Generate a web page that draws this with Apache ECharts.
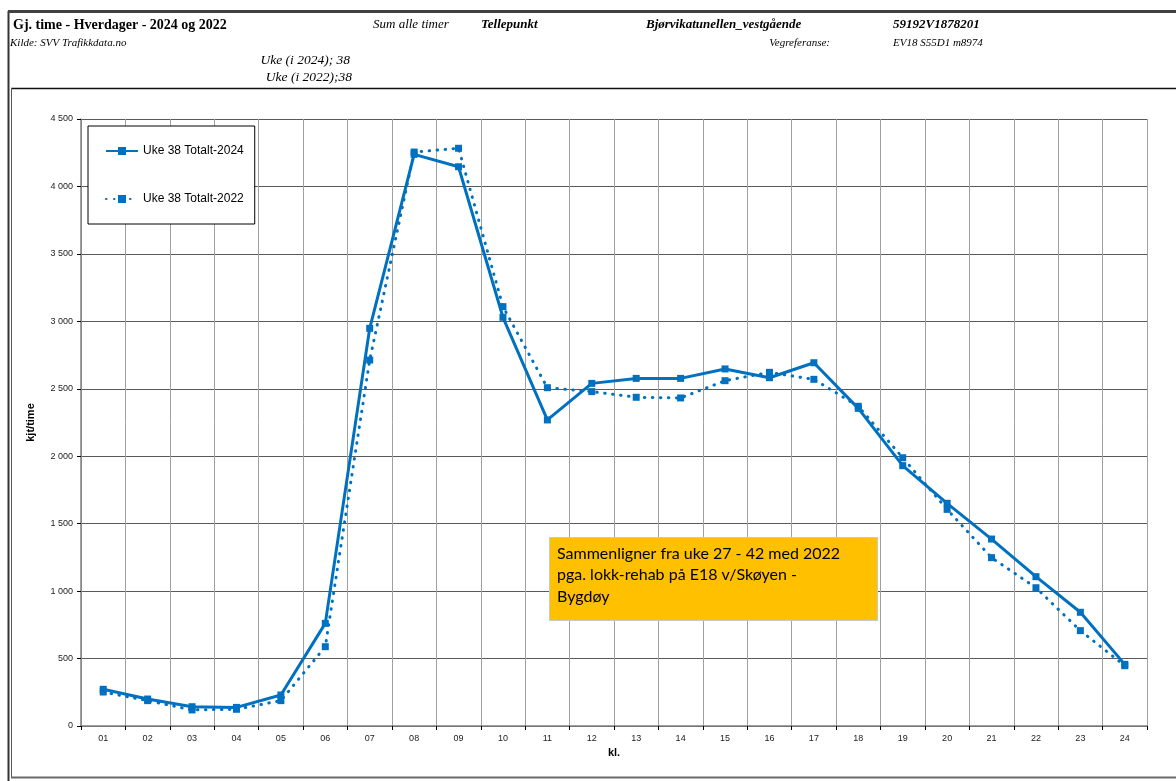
<!DOCTYPE html>
<html>
<head>
<meta charset="utf-8">
<title>Gj. time - Hverdager - 2024 og 2022</title>
<script src="https://cdn.jsdelivr.net/npm/echarts@6/dist/echarts.min.js"></script>
<style>
  html, body { margin: 0; padding: 0; background: #fff; }
  #chart { width: 1176px; height: 781px; }
</style>
</head>
<body>
<div id="chart"></div>
<script>
// Hour of day (kl.)
const hours = ['01','02','03','04','05','06','07','08','09','10','11','12',
               '13','14','15','16','17','18','19','20','21','22','23','24'];

// Average weekday traffic per hour, week 38
const total2024 = [272, 200, 143, 138, 230, 761, 2948, 4238, 4146, 3030, 2269, 2540,
                   2577, 2577, 2647, 2582, 2693, 2355, 1930, 1651, 1386, 1107, 843, 457];
const total2022 = [252, 188, 119, 124, 188, 588, 2713, 4255, 4283, 3109, 2508, 2479,
                   2437, 2432, 2560, 2622, 2570, 2370, 1989, 1606, 1248, 1025, 707, 447];

const seriesNames = ['Uke 38 Totalt-2024', 'Uke 38 Totalt-2022'];

const noteText = 'Sammenligner fra uke 27 - 42 med 2022\npga. lokk-rehab på E18 v/Skøyen -\nBygdøy';

const blue = '#0070C0';
const serif = '"Liberation Serif", "Times New Roman", serif';
const sans = '"Liberation Sans", Arial, sans-serif';

function thousands(v) {
  return String(v).replace(/\B(?=(\d{3})+(?!\d))/g, ' ');
}

function headerText(text, x, y, font, align) {
  return {
    type: 'text', silent: true,
    style: { text: text, x: x, y: y, font: font, fill: '#000',
             textAlign: align || 'left', textVerticalAlign: 'middle' }
  };
}

function line(x1, y1, x2, y2, w, c) {
  return { type: 'line', silent: true,
           shape: { x1: x1, y1: y1, x2: x2, y2: y2 },
           style: { stroke: c, lineWidth: w } };
}

const chart = echarts.init(document.getElementById('chart'), null, { renderer: 'canvas' });

chart.setOption({
  animation: false,
  backgroundColor: '#fff',
  grid: { left: 81, right: 29, top: 119, bottom: 55, containLabel: false },
  legend: {
    orient: 'vertical',
    left: 88, top: 126,
    backgroundColor: '#fff',
    borderColor: '#000', borderWidth: 1, borderRadius: 0,
    padding: [19, 11, 19, 17],
    itemGap: 36,
    itemWidth: 32, itemHeight: 10,
    textStyle: { fontFamily: sans, fontSize: 12, color: '#000' },
    data: seriesNames
  },
  xAxis: {
    type: 'category',
    data: hours,
    boundaryGap: true,
    name: 'kl.',
    nameLocation: 'middle',
    nameGap: 21,
    nameTextStyle: { fontFamily: sans, fontSize: 11, fontWeight: 'bold', color: '#000' },
    axisLine: { lineStyle: { color: '#808080', width: 1.5 } },
    axisTick: { show: true, length: 4, alignWithLabel: false, lineStyle: { color: '#000' } },
    axisLabel: { fontFamily: sans, fontSize: 9, color: '#222', margin: 8 },
    splitLine: { show: true, lineStyle: { color: '#a0a0a0', width: 1 } }
  },
  yAxis: {
    type: 'value',
    min: 0, max: 4500, interval: 500,
    name: 'kjt/time',
    nameLocation: 'middle',
    nameGap: 45,
    nameRotate: 90,
    nameTextStyle: { fontFamily: sans, fontSize: 11, fontWeight: 'bold', color: '#000' },
    axisLine: { show: true, lineStyle: { color: '#808080', width: 1.5 } },
    axisTick: { show: true, length: 4, lineStyle: { color: '#000' } },
    axisLabel: { fontFamily: sans, fontSize: 9, color: '#222', margin: 8,
                 formatter: v => thousands(v) },
    splitLine: { show: true, lineStyle: { color: '#5a5a5a', width: 1 } }
  },
  series: [
    {
      name: seriesNames[0],
      type: 'line',
      data: total2024,
      z: 3,
      symbol: 'rect', symbolSize: 7,
      itemStyle: { color: blue },
      lineStyle: { color: blue, width: 3 }
    },
    {
      name: seriesNames[1],
      type: 'line',
      data: total2022,
      z: 2,
      symbol: 'rect', symbolSize: 7,
      itemStyle: { color: blue },
      lineStyle: { color: blue, width: 3, type: [0.5, 7.5], cap: 'round' }
    }
  ],
  graphic: [
    // frame around header and chart
    line(8.5, 11, 8.5, 781, 2, '#333'),
    line(8, 11.5, 1176, 11.5, 3, '#404040'),
    line(11, 88.5, 1176, 88.5, 1.5, '#111'),
    line(11.5, 88, 11.5, 778, 1, '#555'),
    line(11, 777.5, 1176, 777.5, 2, '#6a6a6a'),

    // header
    headerText('Gj. time - Hverdager - 2024 og 2022', 13, 25, 'bold 14px ' + serif),
    headerText('Sum alle timer', 373, 25, 'italic 13px ' + serif),
    headerText('Tellepunkt', 481, 25, 'italic bold 13px ' + serif),
    headerText('Bjørvikatunellen_vestgående', 646, 25, 'italic bold 13px ' + serif),
    headerText('59192V1878201', 893, 25, 'italic bold 13px ' + serif),
    headerText('Kilde: SVV Trafikkdata.no', 10, 43, 'italic 11px ' + serif),
    headerText('Vegreferanse:', 830, 43, 'italic 11px ' + serif, 'right'),
    headerText('EV18 S55D1 m8974', 893, 43, 'italic 11px ' + serif),
    headerText('Uke (i 2024); 38', 350, 60, 'italic 13.5px ' + serif, 'right'),
    headerText('Uke (i 2022);38', 352, 77, 'italic 13.5px ' + serif, 'right'),

    // note box, kept above the grid lines
    { type: 'rect', z: 100, silent: true,
      shape: { x: 549.5, y: 537.5, width: 328, height: 83 },
      style: { fill: '#FFC000', stroke: '#c8c8c8', lineWidth: 1 } },
    { type: 'text', z: 101, silent: true,
      style: { text: noteText, x: 557, y: 543,
               font: '16px Lato, "Open Sans", sans-serif', lineHeight: 21.5,
               fill: '#000', textAlign: 'left', textVerticalAlign: 'top' } }
  ]
});
</script>
</body>
</html>
